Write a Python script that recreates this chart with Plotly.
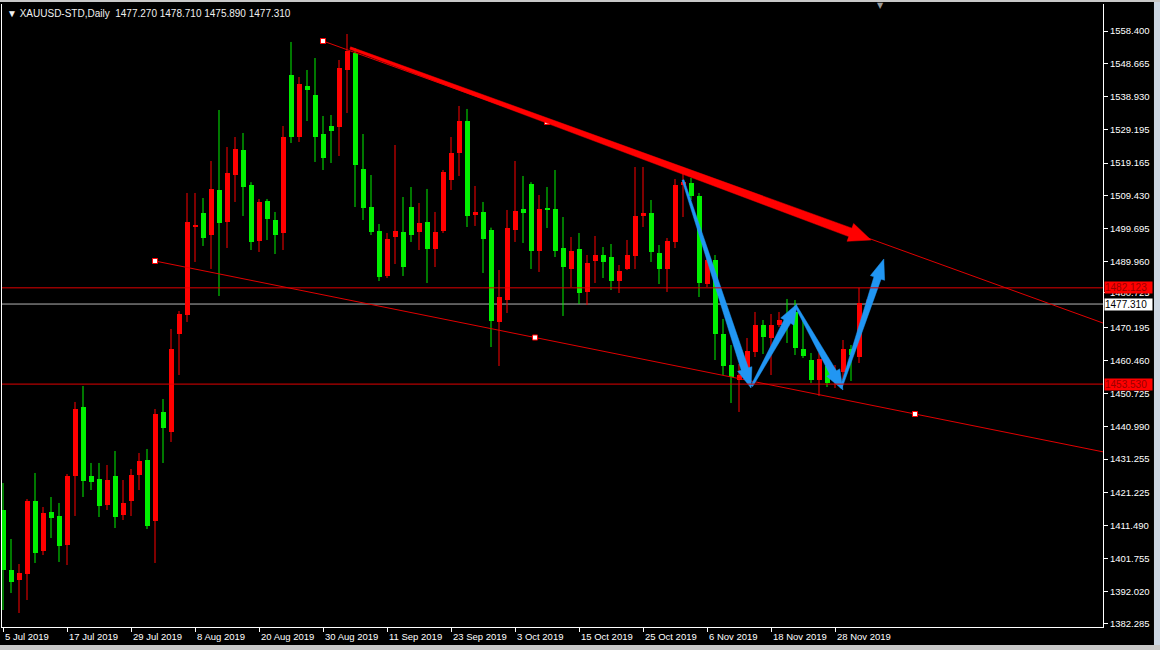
import math
import pandas as pd
import plotly.graph_objects as go

# ---------------- data (XAUUSD daily, 5 Jul 2019 - 4 Dec 2019) ----------------
dates = pd.bdate_range("2019-07-05", "2019-12-04")

opens = [1416.14, 1398.32, 1395.35, 1397.13, 1418.81, 1403.96, 1415.55, 1414.36, 1405.74, 1426.24,
         1446.73, 1426.24, 1425.35, 1417.62, 1426.24, 1414.65, 1418.81, 1426.53, 1430.99, 1412.87,
         1445.25, 1439.31, 1468.41, 1474.05, 1500.19, 1504.35, 1497.81, 1511.18, 1501.68, 1515.63,
         1523.06, 1512.66, 1496.03, 1507.91, 1502.27, 1498.41, 1545.33, 1526.92, 1542.07, 1539.39,
         1527.81, 1530.19, 1529.89, 1546.82, 1551.87, 1517.42, 1506.13, 1499.00, 1485.64, 1497.22,
         1498.71, 1506.13, 1498.71, 1501.68, 1493.66, 1499.00, 1514.15, 1522.17, 1531.67, 1503.75,
         1504.65, 1499.30, 1471.98, 1478.51, 1499.30, 1505.54, 1512.96, 1493.06, 1505.83, 1505.54,
         1493.95, 1487.72, 1493.66, 1480.89, 1490.09, 1491.87, 1491.28, 1484.15, 1487.72, 1491.58,
         1503.46, 1504.35, 1492.47, 1487.72, 1495.74, 1512.66, 1513.26, 1509.40, 1483.26, 1490.39,
         1468.41, 1459.20, 1454.75, 1456.23, 1463.07, 1471.08, 1467.22, 1471.08, 1473.16, 1474.95,
         1463.96, 1460.69, 1454.75, 1458.91, 1454.75, 1457.13, 1463.96, 1461.58, 1477.27]
highs = [1424.16, 1407.53, 1400.10, 1419.40, 1427.13, 1417.03, 1420.00, 1418.22, 1426.83, 1448.22,
         1452.97, 1430.10, 1430.10, 1429.50, 1433.66, 1425.05, 1428.32, 1433.07, 1434.26, 1446.14,
         1449.11, 1469.90, 1475.24, 1510.29, 1510.29, 1508.80, 1519.79, 1534.94, 1523.95, 1526.92,
         1528.11, 1513.50, 1508.51, 1508.51, 1504.65, 1530.19, 1555.14, 1544.74, 1546.82, 1550.38,
         1533.16, 1533.45, 1549.79, 1557.51, 1553.35, 1527.81, 1515.63, 1501.08, 1498.41, 1524.54,
         1509.10, 1512.07, 1507.32, 1511.48, 1504.65, 1517.12, 1526.92, 1536.13, 1535.24, 1512.37,
         1507.62, 1500.00, 1487.42, 1505.24, 1519.79, 1515.34, 1513.50, 1509.69, 1512.07, 1517.12,
         1503.16, 1497.22, 1498.41, 1491.87, 1497.52, 1494.25, 1495.14, 1488.90, 1496.33, 1518.01,
         1518.01, 1508.21, 1494.84, 1496.92, 1514.45, 1518.01, 1514.74, 1510.29, 1491.87, 1491.87,
         1472.87, 1465.14, 1459.50, 1467.22, 1474.95, 1472.57, 1474.35, 1474.95, 1478.81, 1478.51,
         1473.46, 1462.77, 1462.77, 1460.69, 1459.20, 1466.63, 1465.14, 1482.12, 1478.71]
lows = [1386.44, 1391.49, 1385.55, 1389.41, 1400.40, 1402.77, 1407.82, 1400.70, 1399.80, 1414.36,
        1420.00, 1422.08, 1414.06, 1416.14, 1410.79, 1413.17, 1414.36, 1422.08, 1410.50, 1400.40,
        1430.10, 1436.34, 1456.23, 1471.98, 1489.80, 1494.55, 1487.72, 1479.70, 1493.95, 1507.62,
        1503.46, 1493.36, 1492.77, 1496.33, 1492.17, 1493.36, 1525.14, 1525.44, 1531.67, 1519.50,
        1517.12, 1519.20, 1521.28, 1534.05, 1506.13, 1502.27, 1497.81, 1484.15, 1485.04, 1489.20,
        1485.64, 1495.74, 1493.36, 1483.56, 1488.31, 1498.41, 1511.18, 1515.34, 1500.19, 1500.49,
        1486.53, 1464.55, 1458.91, 1474.65, 1495.74, 1495.44, 1487.72, 1486.83, 1499.89, 1491.28,
        1473.76, 1482.37, 1477.32, 1477.02, 1483.56, 1485.04, 1481.48, 1480.59, 1487.40, 1487.72,
        1500.19, 1489.80, 1483.26, 1480.89, 1493.95, 1503.16, 1508.21, 1479.40, 1482.37, 1460.69,
        1456.23, 1447.92, 1445.25, 1454.75, 1461.58, 1462.47, 1456.23, 1470.49, 1465.74, 1462.17,
        1461.28, 1453.86, 1450.00, 1452.67, 1452.37, 1454.75, 1454.45, 1459.80, 1475.89]
closes = [1398.32, 1394.76, 1397.43, 1418.81, 1403.37, 1415.25, 1413.76, 1405.45, 1426.24, 1446.14,
          1424.75, 1424.46, 1417.33, 1425.05, 1414.06, 1418.22, 1426.53, 1430.69, 1411.39, 1444.65,
          1440.49, 1463.96, 1474.35, 1501.68, 1500.78, 1496.92, 1511.48, 1501.38, 1516.23, 1523.36,
          1512.07, 1495.74, 1507.62, 1502.57, 1497.81, 1526.92, 1526.92, 1542.66, 1540.88, 1526.92,
          1520.68, 1528.70, 1547.41, 1552.46, 1518.60, 1505.83, 1498.71, 1485.34, 1496.63, 1499.00,
          1488.31, 1497.81, 1501.38, 1493.66, 1498.71, 1516.53, 1522.17, 1531.67, 1503.46, 1504.65,
          1496.63, 1472.27, 1479.40, 1499.89, 1504.94, 1504.35, 1493.06, 1505.54, 1505.24, 1493.06,
          1488.31, 1493.06, 1480.59, 1489.50, 1491.87, 1489.80, 1484.15, 1487.12, 1491.87, 1503.46,
          1504.35, 1492.77, 1487.72, 1496.03, 1512.66, 1513.56, 1509.40, 1483.56, 1490.39, 1468.41,
          1458.91, 1455.64, 1456.23, 1463.36, 1471.08, 1467.52, 1471.08, 1472.57, 1471.38, 1464.25,
          1461.88, 1454.75, 1460.99, 1453.86, 1457.13, 1463.96, 1462.17, 1477.62, 1477.31]

x_tick_idx = [0, 8, 16, 24, 32, 40, 48, 56, 64, 72, 80, 88, 96, 104]
x_tick_labels = ["5 Jul 2019", "17 Jul 2019", "29 Jul 2019", "8 Aug 2019", "20 Aug 2019",
                 "30 Aug 2019", "11 Sep 2019", "23 Sep 2019", "3 Oct 2019", "15 Oct 2019",
                 "25 Oct 2019", "6 Nov 2019", "18 Nov 2019", "28 Nov 2019"]
y_tick_vals = [1558.400, 1548.665, 1538.930, 1529.195, 1519.165, 1509.430, 1499.695, 1489.960,
               1480.725, 1470.195, 1460.460, 1450.725, 1440.990, 1431.255, 1421.225, 1411.490,
               1401.755, 1392.020, 1382.285]

# horizontal lines / price labels
hline_levels = [1482.123, 1453.530]
bid_price = 1477.310
header = "▼ XAUUSD-STD,Daily  1477.270 1478.710 1475.890 1477.310"

# trend lines: (start bar, price) , (end bar, price) -> rays to the right
trend_upper = [(40, 1555.43), (96, 1507.32)]
trend_lower = [(19, 1490.09), (114, 1444.65)]

# drawn arrows: start (bar, price) -> tip (bar, price)
red_arrow = [(43.4, 1553.35), (108.5, 1496.33)]
blue_arrows = [
    [(85.0, 1514.15), (93.5, 1452.37)],
    [(93.6, 1452.97), (99.25, 1477.32)],
    [(99.1, 1476.73), (105.0, 1451.78)],
    [(104.75, 1452.37), (110.1, 1490.69)],
]

# ---------------- styling constants ----------------
RED = "#ff0000"
GREEN = "#00f000"
BLUE = "#2196f3"
LINE_RED = "#e00000"
X_RANGE = [-0.125, 137.5]
Y_RANGE = [1381.39, 1566.42]
PX_BAR = 8.0
PX_PRICE = 1 / 0.297

n = len(opens)
xs = list(range(n))
up = [c >= o for o, c in zip(opens, closes)]
colors = [RED if u else GREEN for u in up]
body_base = [min(o, c) for o, c in zip(opens, closes)]
body_h = [max(abs(c - o), 0.35) for o, c in zip(opens, closes)]

fig = go.Figure()

# wicks
for flag, col in [(True, RED), (False, GREEN)]:
    wx, wy = [], []
    for i in range(n):
        if up[i] == flag:
            wx += [xs[i], xs[i], None]
            wy += [lows[i], highs[i], None]
    fig.add_trace(go.Scatter(x=wx, y=wy, mode="lines", line=dict(color=col, width=1),
                             hoverinfo="skip"))

# bodies
fig.add_trace(go.Bar(x=xs, y=body_h, base=body_base, width=0.625,
                     marker=dict(color=colors, line=dict(width=0)),
                     customdata=[d.strftime("%d %b %Y") for d in dates],
                     hovertemplate="%{customdata}<extra></extra>"))


def ray(p0, p1):
    (x0, y0), (x1, y1) = p0, p1
    slope = (y1 - y0) / (x1 - x0)
    xe = X_RANGE[1]
    return [x0, xe], [y0, y0 + slope * (xe - x0)]


for tl in (trend_upper, trend_lower):
    rx, ry = ray(*tl)
    fig.add_trace(go.Scatter(x=rx, y=ry, mode="lines", line=dict(color=LINE_RED, width=1),
                             hoverinfo="skip"))

# anchor squares of trend lines (ends + midpoint)
sq_x, sq_y = [], []
for tl in (trend_upper, trend_lower):
    (x0, y0), (x1, y1) = tl
    sq_x += [x0, (x0 + x1) / 2, x1]
    sq_y += [y0, (y0 + y1) / 2, y1]
fig.add_trace(go.Scatter(x=sq_x, y=sq_y, mode="markers",
                         marker=dict(symbol="square", size=5, color="white",
                                     line=dict(color=RED, width=1)),
                         hoverinfo="skip"))


def arrow_poly(p0, p1, w0, w1, hl, hw):
    X0, Y0 = p0[0] * PX_BAR, p0[1] * PX_PRICE
    X1, Y1 = p1[0] * PX_BAR, p1[1] * PX_PRICE
    dx, dy = X1 - X0, Y1 - Y0
    L = math.hypot(dx, dy)
    ux, uy = dx / L, dy / L
    nx, ny = -uy, ux
    bx, by = X1 - ux * hl, Y1 - uy * hl
    pts = [(X0 + nx * w0 / 2, Y0 + ny * w0 / 2),
           (bx + nx * w1 / 2, by + ny * w1 / 2),
           (bx + nx * hw / 2, by + ny * hw / 2),
           (X1, Y1),
           (bx - nx * hw / 2, by - ny * hw / 2),
           (bx - nx * w1 / 2, by - ny * w1 / 2),
           (X0 - nx * w0 / 2, Y0 - ny * w0 / 2)]
    pts.append(pts[0])
    return [p[0] / PX_BAR for p in pts], [p[1] / PX_PRICE for p in pts]


ax_, ay_ = arrow_poly(red_arrow[0], red_arrow[1], 2.5, 9, 22, 19)
fig.add_trace(go.Scatter(x=ax_, y=ay_, mode="lines", fill="toself", fillcolor=RED,
                         line=dict(color=RED, width=0.5), hoverinfo="skip"))
for ba in blue_arrows:
    bx_, by_ = arrow_poly(ba[0], ba[1], 2, 7.5, 20, 15)
    fig.add_trace(go.Scatter(x=bx_, y=by_, mode="lines", fill="toself", fillcolor=BLUE,
                             line=dict(color=BLUE, width=0.5), hoverinfo="skip"))

shapes = []
for lvl in hline_levels:
    shapes.append(dict(type="line", xref="paper", x0=0, x1=1, yref="y", y0=lvl, y1=lvl,
                       line=dict(color=LINE_RED, width=1)))
shapes.append(dict(type="line", xref="paper", x0=0, x1=1, yref="y", y0=bid_price, y1=bid_price,
                   line=dict(color="#b4b4b4", width=1), layer="below"))
# window chrome strips
shapes.append(dict(type="rect", xref="paper", yref="paper", x0=1.0463, x1=1.06, y0=-0.05, y1=1.01,
                   fillcolor="#cdd7e3", line=dict(width=0), layer="below"))
shapes.append(dict(type="rect", xref="paper", yref="paper", x0=-0.01, x1=1.06, y0=-0.05, y1=-0.0290,
                   fillcolor="#c8c8c8", line=dict(width=0), layer="below"))
shapes.append(dict(type="rect", xref="paper", yref="paper", x0=-0.01, x1=1.06, y0=1.0032, y1=1.01,
                   fillcolor="#c8c8c8", line=dict(width=0), layer="below"))

annotations = []
for xi, lab in zip(x_tick_idx, x_tick_labels):
    annotations.append(dict(x=xi, y=0, xref="x", yref="paper", text=lab, showarrow=False,
                            xanchor="left", yanchor="top", xshift=0, yshift=-2,
                            font=dict(family="Liberation Sans", size=9.5, color="white")))
for lvl in hline_levels:
    annotations.append(dict(x=1, y=lvl, xref="paper", yref="y", text=f"{lvl:.3f}", showarrow=False,
                            xanchor="left", yanchor="middle", xshift=1, bgcolor=RED, borderpad=0,
                            width=47, align="left",
                            font=dict(family="Liberation Sans", size=10, color="#9a0000")))
annotations.append(dict(x=1, y=bid_price, xref="paper", yref="y", text=f"{bid_price:.3f}",
                        showarrow=False, xanchor="left", yanchor="middle", xshift=1,
                        bgcolor="white", borderpad=0, width=47, align="left",
                        font=dict(family="Liberation Sans", size=10, color="black")))
annotations.append(dict(x=0, y=1, xref="paper", yref="paper", text=header, showarrow=False,
                        xanchor="left", yanchor="top", xshift=3, yshift=-2,
                        font=dict(family="Liberation Sans", size=10, color="#f0f0f0")))
annotations.append(dict(x=109.7, y=1, xref="x", yref="paper", text="▼", showarrow=False,
                        xanchor="center", yanchor="middle", yshift=-1,
                        font=dict(family="DejaVu Sans", size=8, color="#9a9a9a")))

fig.update_layout(
    width=1160, height=650,
    paper_bgcolor="black", plot_bgcolor="black",
    margin=dict(l=2, r=57, t=4, b=23, autoexpand=False),
    showlegend=False, barmode="overlay", bargap=0,
    shapes=shapes, annotations=annotations,
    xaxis=dict(range=X_RANGE, showgrid=False, zeroline=False, showline=True, linecolor="white",
               linewidth=1, ticks="outside", ticklen=4, tickcolor="white", tickvals=x_tick_idx,
               showticklabels=False, fixedrange=True),
    yaxis=dict(range=Y_RANGE, side="right", showgrid=False, zeroline=False, showline=True,
               mirror=True, linecolor="white", linewidth=1, ticks="outside", ticklen=4,
               tickcolor="white", tickvals=y_tick_vals, ticktext=[f"{v:.3f}" for v in y_tick_vals],
               tickfont=dict(family="Liberation Sans", size=9.5, color="white"), fixedrange=True),
)

fig.write_html("out.html", config={"displayModeBar": False},
               post_script="document.body.style.margin='0px';")
